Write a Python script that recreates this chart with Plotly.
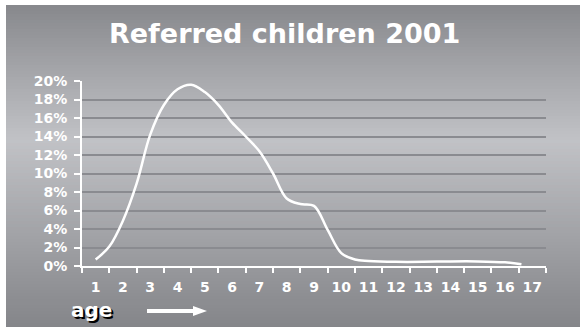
import plotly.graph_objects as go

# Referral share by age (percent of referred children)
ages = [1.0, 1.5, 2.0, 2.5, 3.0, 3.5, 4.0, 4.5, 5.0, 5.5, 6.0, 6.5, 7.0, 7.5,
        8.0, 8.5, 9.0, 9.5, 10.0, 10.5, 11.0, 12.0, 13.0, 14.0, 15.0, 16.0, 16.6]
share = [0.7, 2.1, 4.9, 8.9, 14.2, 17.4, 19.1, 19.6, 18.8, 17.4, 15.5, 14.0, 12.4, 10.0,
         7.3, 6.7, 6.5, 3.9, 1.4, 0.7, 0.55, 0.45, 0.45, 0.5, 0.5, 0.4, 0.2]

age_labels = [str(a) for a in range(1, 18)]
y_ticks = list(range(0, 21, 2))

W, H = 580, 329
L, R, T, B = 82, 34, 81, 63
PW, PH = W - L - R, H - T - B


def px_x(p):
    return (p - L) / PW


def px_y(p):
    return (H - B - p) / PH


def hexrgb(h):
    h = h.lstrip("#")
    return tuple(int(h[i:i + 2], 16) for i in (0, 2, 4))


# vertical grey gradient for the panel background
stops = [(5, "#87888c"), (60, "#a0a1a5"), (140, "#c1c2c6"), (230, "#a3a4a8"), (327, "#848589")]


def grad(y):
    for (y0, c0), (y1, c1) in zip(stops, stops[1:]):
        if y0 <= y <= y1:
            t = (y - y0) / (y1 - y0)
            a, b = hexrgb(c0), hexrgb(c1)
            return "rgb(%d,%d,%d)" % tuple(round(a[i] + (b[i] - a[i]) * t) for i in range(3))
    return stops[-1][1]


shapes = []
band = 3
y = 5
while y < 327:
    y2 = min(y + band, 327)
    shapes.append(dict(type="rect", xref="paper", yref="paper", layer="below",
                       x0=px_x(6), x1=px_x(580), y0=px_y(y), y1=px_y(min(y2 + 1, 327)),
                       fillcolor=grad(y + band / 2), line=dict(width=0)))
    y = y2

# arrow next to the "age" caption
ay = 311
shapes.append(dict(type="line", xref="paper", yref="paper", layer="above",
                   x0=px_x(147), x1=px_x(195), y0=px_y(ay), y1=px_y(ay),
                   line=dict(color="white", width=4)))
shapes.append(dict(type="path", xref="paper", yref="paper", layer="above",
                   path="M %f,%f L %f,%f L %f,%f Z" % (px_x(193), px_y(ay - 5), px_x(207), px_y(ay),
                                                       px_x(193), px_y(ay + 5)),
                   fillcolor="white", line=dict(width=0)))

fig = go.Figure()
fig.add_trace(go.Scatter(x=ages, y=share, mode="lines",
                         line=dict(color="white", width=2.5, shape="spline", smoothing=1.0),
                         hoverinfo="skip"))

font_family = "DejaVu Sans"

fig.update_layout(
    width=W, height=H,
    margin=dict(l=L, r=R, t=T, b=B, pad=0),
    paper_bgcolor="white",
    plot_bgcolor="rgba(0,0,0,0)",
    showlegend=False,
    shapes=shapes,
    font=dict(family=font_family, color="white"),
    annotations=[
        dict(text="<b>Referred children 2001</b>", xref="paper", yref="paper",
             x=px_x(284), y=px_y(33), xanchor="center", yanchor="middle", showarrow=False,
             font=dict(family=font_family, size=27, color="white")),
        dict(text="<b>age</b>", xref="paper", yref="paper",
             x=px_x(69), y=px_y(310), xanchor="left", yanchor="middle", showarrow=False,
             font=dict(family=font_family, size=20, color="white",
                       shadow="2px 2px 0px #000")),
    ],
)

fig.update_xaxes(
    range=[0.5, 17.5], tickvals=list(range(1, 18)), ticktext=[f"<b>{t}</b>" for t in age_labels],
    ticks="", showgrid=False, zeroline=False,
    showline=True, linecolor="white", linewidth=2,
    tickfont=dict(family=font_family, size=14, color="white"),
    ticklabelstandoff=7,
    minor=dict(tickvals=[i + 0.5 for i in range(0, 18)], ticks="outside", ticklen=5,
               tickcolor="white", tickwidth=1.5, showgrid=False),
)

fig.update_yaxes(
    range=[0, 20], tickvals=y_ticks, ticktext=[f"<b>{v}%</b>" for v in y_ticks],
    ticks="outside", ticklen=6, tickcolor="white", tickwidth=2,
    showline=True, linecolor="white", linewidth=2,
    showgrid=True, gridcolor="#8a8b90", gridwidth=1.5, zeroline=False,
    tickfont=dict(family=font_family, size=14, color="white"),
    ticklabelstandoff=4,
)

fig.write_html("out.html")
